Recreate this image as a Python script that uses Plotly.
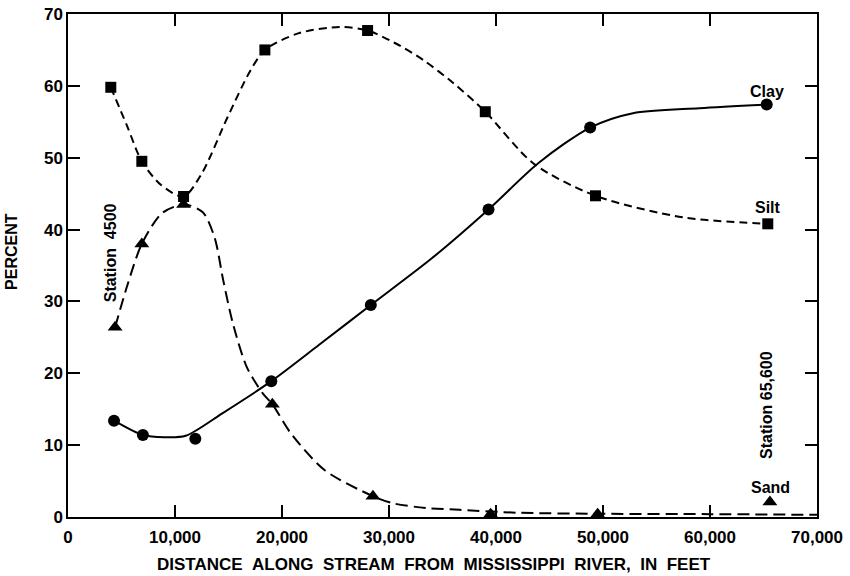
import plotly.graph_objects as go

# Measured sample points
clay_x = [4300, 7000, 11900, 19000, 28300, 39300, 48800, 65300]
clay_y = [13.4, 11.4, 10.9, 18.9, 29.5, 42.8, 54.2, 57.4]

silt_x = [4000, 6900, 10800, 18400, 28000, 39000, 49300, 65400]
silt_y = [59.8, 49.5, 44.6, 65.0, 67.7, 56.4, 44.7, 40.8]

sand_x = [4400, 6900, 10800, 19100, 28500, 39500, 49500, 65600]
sand_y = [26.4, 38.0, 43.5, 15.7, 2.9, 0.4, 0.4, 2.1]

# Hand-fitted smooth curves
clay_cx = [4300, 7000, 9000, 11000, 14500, 19000, 23500, 28300, 34000, 39300, 44000, 48800, 52800, 59000, 65300]
clay_cy = [13.4, 11.4, 11.1, 11.3, 14.5, 18.9, 24.0, 29.5, 36.0, 42.8, 49.3, 54.2, 56.2, 56.9, 57.4]

silt_cx = [4000, 5500, 6900, 8700, 10800, 12500, 14900, 17000, 18400, 21500, 25400, 28000, 30500, 33200, 36000, 39000, 43500, 49300, 57500, 65400]
silt_cy = [59.8, 54.5, 49.5, 46.2, 44.6, 47.8, 55.6, 62.0, 65.0, 67.3, 68.2, 67.7, 66.0, 63.6, 60.4, 56.4, 49.2, 44.7, 41.7, 40.8]

sand_cx = [4400, 5600, 6900, 8800, 10900, 12600, 13700, 14500, 15400, 16700, 18200, 19100, 20800, 24000, 28500, 30400, 33500, 36600, 42000, 50000, 60000, 70000]
sand_cy = [26.4, 32.5, 38.0, 42.3, 43.5, 42.4, 38.9, 33.0, 27.0, 20.9, 17.2, 15.7, 11.7, 6.5, 2.9, 1.9, 1.25, 1.0, 0.6, 0.45, 0.4, 0.3]

x_ticks = [0, 10000, 20000, 30000, 40000, 50000, 60000, 70000]
y_ticks = [0, 10, 20, 30, 40, 50, 60, 70]

FONT = "Liberation Sans"
NB = "\u00a0"
fig = go.Figure()

fig.add_trace(go.Scatter(x=clay_cx, y=clay_cy, mode="lines", line=dict(color="black", width=2, shape="spline", smoothing=0.8), hoverinfo="skip"))
fig.add_trace(go.Scatter(x=silt_cx, y=silt_cy, mode="lines", line=dict(color="black", width=2, shape="spline", smoothing=0.8, dash="8px,5px"), hoverinfo="skip"))
fig.add_trace(go.Scatter(x=sand_cx, y=sand_cy, mode="lines", line=dict(color="black", width=2, shape="spline", smoothing=0.8, dash="12px,6px"), hoverinfo="skip"))

fig.add_trace(go.Scatter(x=clay_x, y=clay_y, mode="markers", name="Clay", marker=dict(symbol="circle", size=12, color="black")))
fig.add_trace(go.Scatter(x=silt_x, y=silt_y, mode="markers", name="Silt", marker=dict(symbol="square", size=11, color="black")))
fig.add_trace(go.Scatter(x=sand_x, y=sand_y, mode="markers", name="Sand", marker=dict(symbol="triangle-up", size=13, color="black")))

ann_font = dict(family=FONT, size=16, color="black", weight="bold")
fig.add_annotation(x=clay_x[-1], y=clay_y[-1], text="Clay", showarrow=False, yshift=13, font=ann_font)
fig.add_annotation(x=silt_x[-1], y=silt_y[-1], text="Silt", showarrow=False, yshift=16, font=ann_font)
fig.add_annotation(x=sand_x[-1], y=sand_y[-1], text="Sand", showarrow=False, yshift=14, xshift=1, font=ann_font)
fig.add_annotation(x=3925, y=36.7, text="Station" + NB + NB + "4500", showarrow=False, textangle=-90, font=ann_font)
fig.add_annotation(x=65330, y=15.6, text="Station 65,600", showarrow=False, textangle=-90, font=ann_font)

# Axis titles
title_font = dict(family=FONT, size=17, color="black", weight="bold")
x_title = "DISTANCE ALONG STREAM FROM MISSISSIPPI RIVER, IN FEET".replace(" ", " " + NB)
fig.add_annotation(xref="paper", yref="paper", x=0.4887, y=-0.0954, text=x_title, showarrow=False,
                   font=title_font, xanchor="center", yanchor="middle")
fig.add_annotation(xref="paper", yref="paper", x=-0.0748, y=0.529, text="PERCENT", showarrow=False,
                   textangle=-90, font=dict(family=FONT, size=16, color="black", weight="bold"),
                   xanchor="center", yanchor="middle")

axis_common = dict(showline=True, linecolor="black", linewidth=1.5, mirror="ticks", ticks="inside",
                   ticklen=12, tickwidth=1.5, tickcolor="black", showgrid=False, zeroline=False,
                   automargin=False,
                   tickfont=dict(family=FONT, size=17, color="black", weight="bold"))

fig.update_xaxes(range=[0, 70000], tickvals=x_ticks, ticktext=[f"{v:,}" for v in x_ticks],
                 ticklabelstandoff=4, **axis_common)
fig.update_yaxes(range=[0, 70], tickvals=y_ticks, **axis_common)

fig.update_layout(width=850, height=576, margin=dict(l=68, r=33, t=14, b=59),
                  plot_bgcolor="white", paper_bgcolor="white", showlegend=False)

fig.write_html("out.html")
